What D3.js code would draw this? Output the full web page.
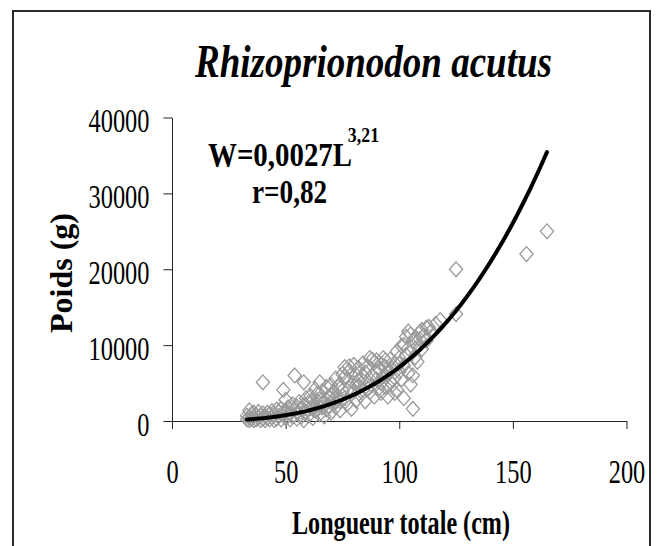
<!DOCTYPE html>
<html>
<head>
<meta charset="utf-8">
<script src="https://cdn.jsdelivr.net/npm/d3@7"></script>
<style>
  body { margin: 0; background: #fff; }
  text { font-family: "Liberation Serif", "Times New Roman", serif; fill: #000; }
</style>
</head>
<body>
<div id="viz"></div>
<script>
// longueur totale (cm) / poids (g)
const longueur = [
  33, 33, 34, 34, 34, 35, 35, 36, 36, 36, 37, 37, 38, 38, 39, 39,
  40, 40, 40, 41, 41, 42, 42, 43, 43, 44, 44, 45, 45, 46, 46, 47, 47,
  48, 48, 49, 49, 50, 50, 50, 51, 51, 52, 52, 53, 53, 54, 54, 55, 55,
  56, 56, 57, 57, 58, 58, 58, 59, 59, 60, 60, 61, 61, 62, 62, 63, 63,
  64, 64, 65, 65, 65, 66, 66, 67, 67, 68, 68, 69, 69, 70, 70, 71, 71,
  72, 72, 73, 73, 74, 74, 75, 75, 76, 76, 77, 77, 78, 78, 79, 79,
  80, 80, 81, 81, 82, 82, 83, 83, 84, 84, 85, 85, 86, 86, 87, 87,
  88, 88, 89, 89, 90, 90, 91, 91, 92, 92, 93, 93, 94, 94, 95, 95,
  96, 96, 97, 97, 98, 98, 99, 99, 100, 100, 101, 101, 102, 102,
  103, 103, 104, 104, 105, 105, 106, 106, 106, 107, 107, 108, 108,
  109, 109, 110, 110, 111, 112, 112, 113, 114, 116, 118, 125, 125, 156, 165,
  62, 66, 70, 72, 74, 76, 78, 80, 82, 84, 86, 88, 90, 92, 94, 96, 98, 100, 102, 104
];
const poids = [
  200, 700, 100, 1400, 500, 300, 900, 600, 100, 1100, 200, 800, 500, 1200, 100, 700,
  5100, 300, 1000, 600, 100, 1100, 400, 200, 900, 1300, 500, 100, 800, 1500, 300, 700, 1200,
  200, 1600, 4100, 900, 2800, 400, 1300, 1800, 700, 200, 1100, 2200, 600, 6000, 1500, 300, 1900,
  1000, 2500, 600, 1600, 5100, 2100, 100, 1200, 3000, 700, 2400, 1700, 3300, 400, 2700, 4200, 1400,
  2100, 3600, 5100, 900, 2900, 1800, 3900, 600, 2500, 4500, 1500, 3200, 2000, 1100, 4700, 2800, 3700,
  5600, 1800, 3300, 4600, 1400, 2600, 6200, 4000, 7100, 3000, 2200, 5300, 4300, 6600, 3600, 1600,
  7400, 5000, 2700, 6100, 4600, 7000, 3400, 5600, 7600, 4100, 2600, 6400, 5200, 7200, 8300, 3800,
  6000, 4700, 7700, 3200, 8000, 5500, 4300, 6800, 7500, 3700, 5900, 8300, 4500, 7100, 6300, 3200,
  8100, 5200, 4800, 6900, 7600, 5700, 9200, 4100, 6500, 8300, 9900, 5500, 3000, 7300,
  11100, 8700, 6300, 9600, 11400, 4800, 1600, 6000, 10500, 8400, 11000, 7800, 9800,
  10800, 11700, 9500, 12000, 11300, 10600, 12300, 12400, 11800, 12800, 13300, 20000, 14100, 22000, 25000,
  1600, 2800, 3500, 2500, 4800, 5800, 7200, 3900, 5300, 6000, 4300, 8100, 6500, 5000, 8000, 6500, 3700, 7500, 10000, 11800
];

const xTicks = [0, 50, 100, 150, 200];
const yTicks = [0, 10000, 20000, 30000, 40000];

// trendline W = a * L^b as printed on the chart
const coefA = 0.0027, coefB = 3.21;
const trendFrom = 33, trendTo = 165;

const titre = "Rhizoprionodon acutus";
const xTitre = "Longueur totale (cm)";
const yTitre = "Poids (g)";

const width = 658, height = 546;

const svg = d3.select("#viz").append("svg")
    .attr("width", width)
    .attr("height", height);

svg.append("rect")
    .attr("width", width).attr("height", height)
    .attr("fill", "#fff");

// outer frame (open at the bottom, as in the picture)
svg.append("path")
    .attr("d", `M13,${height + 2} V11 H650 V${height + 2}`)
    .attr("fill", "none")
    .attr("stroke", "#2a2a2a")
    .attr("stroke-width", 2);

const xScale = d3.scaleLinear().domain([0, 200]).range([172, 626.5]);
const yScale = d3.scaleLinear().domain([0, 40000]).range([421, 117.5]);

const digitW = 12.2;

const xAxis = svg.append("g")
    .attr("transform", `translate(0, ${yScale(0)})`)
    .call(d3.axisBottom(xScale).tickValues(xTicks).tickSize(8).tickSizeOuter(0).tickPadding(30));

const yAxis = svg.append("g")
    .attr("transform", `translate(${xScale(0)}, 0)`)
    .call(d3.axisLeft(yScale).tickValues(yTicks).tickSize(8.5).tickSizeOuter(0).tickPadding(14)
        .tickFormat(d => String(d)));

[xAxis, yAxis].forEach(g => {
  g.select(".domain").attr("stroke", "#222").attr("stroke-width", 1);
  g.selectAll(".tick line").attr("stroke", "#222").attr("stroke-width", 1);
  g.selectAll(".tick text")
      .attr("font-size", 34)
      .attr("font-family", "Liberation Serif, serif")
      .attr("fill", "#000")
      .attr("textLength", function() { return this.textContent.length * digitW; })
      .attr("lengthAdjust", "spacingAndGlyphs");
});
yAxis.selectAll(".tick text").attr("dy", "0.42em");

// scatter: open grey diamonds
const pts = longueur.map((l, i) => [l, poids[i]]);
const dw = 6.6, dh = 7.4;
const diamond = `M0,${-dh} L${dw},0 L0,${dh} L${-dw},0 Z`;

svg.append("g")
  .selectAll("path")
  .data(pts)
  .join("path")
    .attr("transform", d => `translate(${xScale(d[0])}, ${yScale(d[1])})`)
    .attr("d", diamond)
    .attr("fill", "none")
    .attr("stroke", "#9a9a9a")
    .attr("stroke-width", 1.3);

// power trendline
const trend = d3.range(trendFrom, trendTo + 0.5, 1).map(l => [l, coefA * Math.pow(l, coefB)]);

svg.append("path")
    .datum(trend)
    .attr("fill", "none")
    .attr("stroke", "#000")
    .attr("stroke-width", 4)
    .attr("stroke-linecap", "round")
    .attr("d", d3.line().x(d => xScale(d[0])).y(d => yScale(d[1])).curve(d3.curveMonotoneX));

// title
svg.append("text")
    .attr("x", 195).attr("y", 77)
    .attr("font-size", 46)
    .attr("font-weight", "bold")
    .attr("font-style", "italic")
    .attr("textLength", 357)
    .attr("lengthAdjust", "spacingAndGlyphs")
    .text(titre);

// equation, condensed like the original
const eq = svg.append("text")
    .attr("transform", "translate(208, 166) scale(0.85, 1)")
    .attr("font-size", 34)
    .attr("font-weight", "bold");
eq.append("tspan").text("W=0,0027L");
eq.append("tspan").attr("dx", -5).attr("dy", -24).attr("font-size", 21).text("3,21");

svg.append("text")
    .attr("transform", "translate(252, 203) scale(0.8, 1)")
    .attr("font-size", 34)
    .attr("font-weight", "bold")
    .text("r=0,82");

// axis titles
svg.append("text")
    .attr("x", 401).attr("y", 534)
    .attr("text-anchor", "middle")
    .attr("font-size", 34)
    .attr("font-weight", "bold")
    .attr("textLength", 218)
    .attr("lengthAdjust", "spacingAndGlyphs")
    .text(xTitre);

svg.append("text")
    .attr("transform", "translate(72, 273) rotate(-90)")
    .attr("text-anchor", "middle")
    .attr("font-size", 32)
    .attr("font-weight", "bold")
    .text(yTitre);
</script>
</body>
</html>
